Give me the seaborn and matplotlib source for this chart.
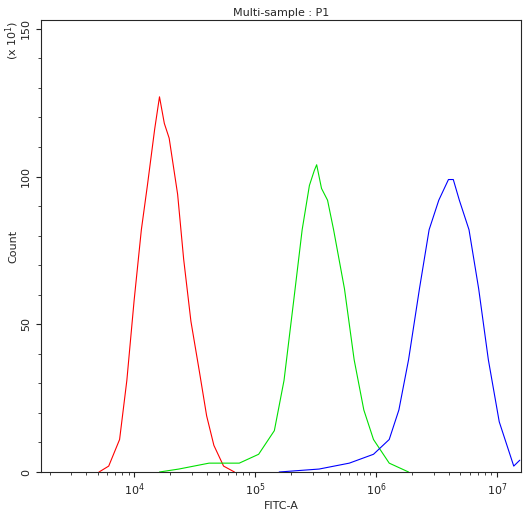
import matplotlib
matplotlib.use("Agg")
import matplotlib.pyplot as plt
import seaborn as sns
import numpy as np
import pandas as pd
from matplotlib.ticker import LogLocator, NullFormatter, MultipleLocator

sns.set_style("ticks")
plt.rcParams['font.family'] = ['DejaVu Sans']

red_logx = [3.71,3.79,3.88,3.94,4.00,4.06,4.11,4.17,4.21,4.25,4.29,4.36,4.41,4.47,4.54,4.60,4.66,4.74,4.83]
red_y = [0,2,11,31,58,82,97,116,127,118,113,94,72,51,34,19,9,2,0]
green_logx = [4.21,4.37,4.62,4.87,5.03,5.16,5.24,5.32,5.39,5.45,5.49,5.51,5.55,5.60,5.65,5.74,5.82,5.90,5.98,6.11,6.27]
green_y = [0,1,3,3,6,14,31,58,82,97,102,104,96,92,82,62,38,21,11,3,0]
blue_logx = [5.20,5.53,5.78,5.98,6.11,6.19,6.27,6.36,6.44,6.52,6.60,6.64,6.69,6.77,6.85,6.93,7.02,7.10,7.14,7.19]
blue_y = [0,1,3,6,11,21,38,62,82,92,99,99,92,82,62,38,17,7,2,4]

fig = plt.figure(figsize=(5.29, 5.11), dpi=100)
ax = fig.add_axes([41/529, 1-472/511, (521-41)/529, (472-20)/511])
for lx, y, c in [(red_logx, red_y, "red"), (green_logx, green_y, "#00e000"), (blue_logx, blue_y, "blue")]:
    df = pd.DataFrame({"x": np.power(10.0, lx), "y": y})
    sns.lineplot(data=df, x="x", y="y", color=c, lw=0.8, ax=ax)
ax.set_xscale("log")
ax.set_xlim(10**3.23, 10**7.2)
ax.set_ylim(0, 153)
ax.set_yticks([0, 50, 100, 150])
ax.yaxis.set_minor_locator(MultipleLocator(10))
ax.xaxis.set_minor_locator(LogLocator(subs=np.arange(2, 10)))
ax.xaxis.set_minor_formatter(NullFormatter())
ax.tick_params(labelsize=8, colors="#222222")
for lab in ax.get_yticklabels():
    lab.set_rotation(90)
    lab.set_va("center")
ax.set_xlabel("FITC-A", fontsize=8, labelpad=2)
ax.set_ylabel("Count", fontsize=8, labelpad=2)
ax.set_title("Multi-sample : P1", fontsize=8, pad=3)
fig.text(12/529, 1-40/511, "(x 10$^1$)", rotation=90, fontsize=8, ha="center", va="center")
fig.savefig("out.png", dpi=100)
